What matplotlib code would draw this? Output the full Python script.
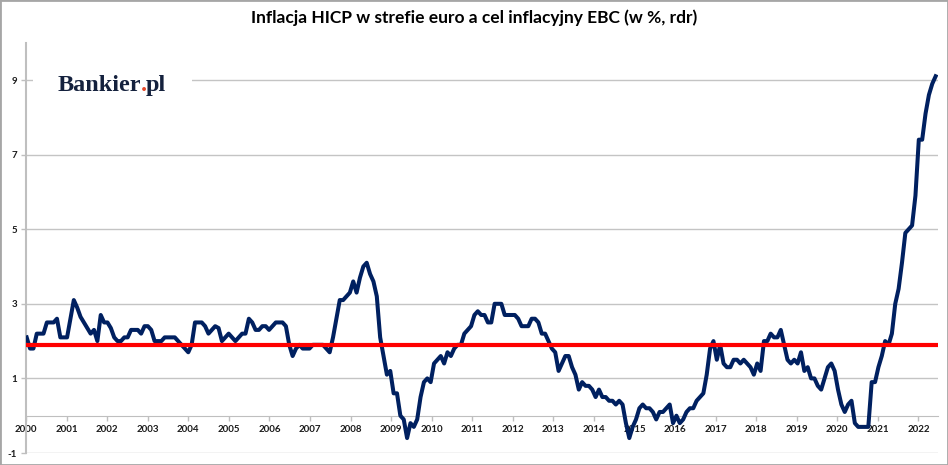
import matplotlib
matplotlib.use("Agg")
import matplotlib.pyplot as plt
import numpy as np
from matplotlib.patches import Rectangle
from matplotlib.text import Annotation

plt.rcParams["axes.unicode_minus"] = False

# HICP, euro area, % y/y -- monthly, first point Feb 2000
y2000 = [2.1, 1.8, 1.8, 2.2, 2.2, 2.2, 2.5, 2.5, 2.5, 2.6, 2.1]
y2001 = [2.1, 2.1, 2.6, 3.1, 2.9, 2.65, 2.5, 2.35, 2.2, 2.3, 2.0, 2.7]
y2002 = [2.5, 2.5, 2.35, 2.1, 2.0, 2.0, 2.1, 2.1, 2.3, 2.3, 2.3, 2.2]
y2003 = [2.4, 2.4, 2.3, 2.0, 2.0, 2.0, 2.1, 2.1, 2.1, 2.1, 2.0, 1.9]
y2004 = [1.8, 1.7, 1.9, 2.5, 2.5, 2.5, 2.4, 2.2, 2.3, 2.4, 2.35, 2.0]
y2005 = [2.1, 2.2, 2.1, 2.0, 2.1, 2.2, 2.2, 2.6, 2.5, 2.3, 2.3, 2.4]
y2006 = [2.4, 2.3, 2.4, 2.5, 2.5, 2.5, 2.4, 1.9, 1.6, 1.8, 1.9, 1.8]
y2007 = [1.8, 1.8, 1.9, 1.9, 1.9, 1.9, 1.8, 1.7, 2.1, 2.6, 3.1, 3.1]
y2008 = [3.2, 3.3, 3.6, 3.3, 3.7, 4.0, 4.1, 3.8, 3.6, 3.2, 2.1, 1.6]
y2009 = [1.1, 1.2, 0.6, 0.6, 0.0, -0.1, -0.6, -0.2, -0.3, -0.1, 0.5, 0.9]
y2010 = [1.0, 0.9, 1.4, 1.5, 1.6, 1.4, 1.7, 1.6, 1.8, 1.9, 1.9, 2.2]
y2011 = [2.3, 2.4, 2.7, 2.8, 2.7, 2.7, 2.5, 2.5, 3.0, 3.0, 3.0, 2.7]
y2012 = [2.7, 2.7, 2.7, 2.6, 2.4, 2.4, 2.4, 2.6, 2.6, 2.5, 2.2, 2.2]
y2013 = [2.0, 1.8, 1.7, 1.2, 1.4, 1.6, 1.6, 1.3, 1.1, 0.7, 0.9, 0.8]
y2014 = [0.8, 0.7, 0.5, 0.7, 0.5, 0.5, 0.4, 0.4, 0.3, 0.4, 0.3, -0.2]
y2015 = [-0.6, -0.3, -0.1, 0.2, 0.3, 0.2, 0.2, 0.1, -0.1, 0.1, 0.1, 0.2]
y2016 = [0.3, -0.2, 0.0, -0.2, -0.1, 0.1, 0.2, 0.2, 0.4, 0.5, 0.6, 1.1]
y2017 = [1.8, 2.0, 1.5, 1.9, 1.4, 1.3, 1.3, 1.5, 1.5, 1.4, 1.5, 1.4]
y2018 = [1.3, 1.1, 1.4, 1.2, 2.0, 2.0, 2.2, 2.1, 2.1, 2.3, 1.9, 1.5]
y2019 = [1.4, 1.5, 1.4, 1.7, 1.2, 1.3, 1.0, 1.0, 0.8, 0.7, 1.0, 1.3]
y2020 = [1.4, 1.2, 0.7, 0.3, 0.1, 0.3, 0.4, -0.2, -0.3, -0.3, -0.3, -0.3]
y2021 = [0.9, 0.9, 1.3, 1.6, 2.0, 1.9, 2.2, 3.0, 3.4, 4.1, 4.9, 5.0]
y2022 = [5.1, 5.9, 7.4, 7.4, 8.1, 8.6, 8.9, 9.1]

target = 1.9
year_labels = [str(y) for y in range(2000, 2023)]

hicp = np.concatenate([y2000, y2001, y2002, y2003, y2004, y2005, y2006, y2007,
                       y2008, y2009, y2010, y2011, y2012, y2013, y2014, y2015,
                       y2016, y2017, y2018, y2019, y2020, y2021, y2022])
xx = np.arange(len(hicp))

W, H = 948, 465
fig = plt.figure(figsize=(W / 100, H / 100), dpi=100)
ax = fig.add_axes([26 / W, 1 - 453 / H, (938 - 26) / W, (453 - 42.7) / H])

ax.plot(xx, hicp, color="#002060", lw=2.9, zorder=3, solid_joinstyle="round")
ax.axhline(target, color="#ff0000", lw=3, zorder=4)

ax.set_xlim(-0.2, 270.7)
ax.set_ylim(-1, 10)
ax.set_yticks([-1, 1, 3, 5, 7, 9])
ax.set_xticks(np.arange(len(year_labels)) * 12.05 - 0.2)
ax.set_xticklabels(year_labels)
ax.grid(axis="y", color="#c4c4c4", lw=1)
ax.set_axisbelow(True)

for s in ["top", "right"]:
    ax.spines[s].set_visible(False)
ax.spines["bottom"].set_position(("data", 0))
ax.spines["bottom"].set_color("#bfbfbf")
ax.spines["left"].set_color("#bfbfbf")
ax.spines["left"].set_linewidth(1.5)

ax.tick_params(axis="x", direction="out", length=3.5, width=1, color="#bfbfbf", pad=3)
ax.tick_params(axis="y", direction="out", length=3.5, width=1, color="#bfbfbf", pad=3)
for lab in ax.get_xticklabels() + ax.get_yticklabels():
    lab.set_fontfamily(["Lato", "DejaVu Sans"])
    lab.set_fontweight("bold")
    lab.set_fontsize(7)
    lab.set_color("#1a1a1a")

fig.text(0.5, 1 - 18 / H, "Inflacja HICP w strefie euro a cel inflacyjny EBC (w %, rdr)",
         ha="center", va="center", fontsize=12.5, fontweight="bold",
         family=["Lato", "DejaVu Sans"], color="black")

# logo
fig.patches.append(Rectangle((33 / W, 1 - 102 / H), (192 - 33) / W, 42 / H,
                             transform=fig.transFigure, facecolor="white",
                             edgecolor="none", zorder=2))
logo_kw = dict(fontsize=17.5, fontweight="bold", family=["Liberation Serif", "DejaVu Serif"], zorder=3)
t1 = fig.text(58 / W, 1 - 90.7 / H, "Bankier", color="#14213d", va="baseline", **logo_kw)
t2 = fig.add_artist(Annotation(".", xy=(1, 0), xycoords=t1, xytext=(-0.8, 0),
                               textcoords="offset points", va="bottom", ha="left",
                               color="#e5482a", annotation_clip=False, **logo_kw))
fig.add_artist(Annotation("pl", xy=(1, 0), xycoords=t2, xytext=(-0.8, 0),
                          textcoords="offset points", va="bottom", ha="left",
                          color="#14213d", annotation_clip=False, **logo_kw))

fig.patches.append(Rectangle((0, 0), 1, 1, transform=fig.transFigure, fill=False,
                             edgecolor="#a6a6a6", lw=2, zorder=10))

fig.savefig("out.png", dpi=100)
